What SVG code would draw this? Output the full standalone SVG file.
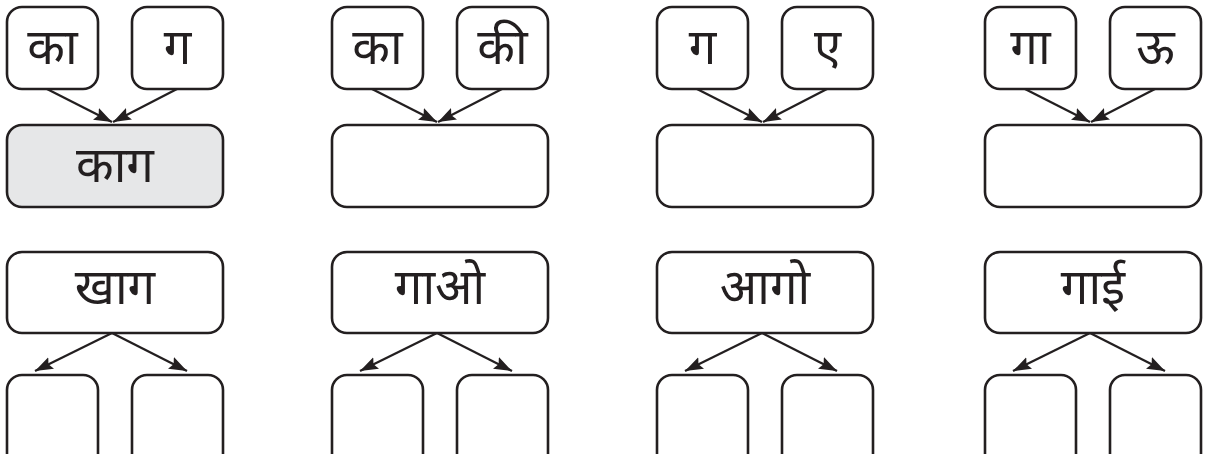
<svg xmlns="http://www.w3.org/2000/svg" width="1209" height="454" viewBox="0 0 1209 454">
<style>
.b{fill:#fff;stroke:#231f20;stroke-width:2.6}
.g{fill:#e6e7e8}
.c{stroke:#231f20;stroke-width:2.3;fill:none;marker-end:url(#ah)}
text{font-family:"Noto Sans","Noto Sans Devanagari",sans-serif;font-size:49px;fill:#231f20;text-anchor:middle}
</style>
<defs>
<marker id="ah" markerUnits="userSpaceOnUse" markerWidth="20" markerHeight="14" refX="18" refY="6.5" orient="auto">
<path d="M0,0 L18,6.5 L0,13 L3,6.5 z" fill="#231f20"/>
</marker>
</defs>
<rect width="1209" height="454" fill="#fff"/>
<!-- column 1 -->
<g id="n1a"><rect class="b" x="7" y="7" width="91" height="82" rx="15"/><text x="52.5" y="64">का</text></g>
<g id="n1b"><rect class="b" x="132" y="7" width="91" height="82" rx="15"/><text x="177.5" y="64">ग</text></g>
<g id="n1c"><rect class="b g" x="7" y="125" width="216" height="82" rx="15"/><text x="115" y="182">काग</text></g>
<g id="n1d"><rect class="b" x="7" y="252" width="216" height="81" rx="15"/><text x="115" y="304">खाग</text></g>
<g id="n1e"><rect class="b" x="7" y="375" width="91" height="100" rx="15"/></g>
<g id="n1f"><rect class="b" x="132" y="375" width="91" height="100" rx="15"/></g>
<!-- column 2 -->
<g id="n2a"><rect class="b" x="332" y="7" width="91" height="82" rx="15"/><text x="377.5" y="64">का</text></g>
<g id="n2b"><rect class="b" x="457" y="7" width="91" height="82" rx="15"/><text x="502.5" y="64">की</text></g>
<g id="n2c"><rect class="b" x="332" y="125" width="216" height="82" rx="15"/></g>
<g id="n2d"><rect class="b" x="332" y="252" width="216" height="81" rx="15"/><text x="440" y="304">गाओ</text></g>
<g id="n2e"><rect class="b" x="332" y="375" width="91" height="100" rx="15"/></g>
<g id="n2f"><rect class="b" x="457" y="375" width="91" height="100" rx="15"/></g>
<!-- column 3 -->
<g id="n3a"><rect class="b" x="657" y="7" width="91" height="82" rx="15"/><text x="702.5" y="64">ग</text></g>
<g id="n3b"><rect class="b" x="782" y="7" width="91" height="82" rx="15"/><text x="827.5" y="64">ए</text></g>
<g id="n3c"><rect class="b" x="657" y="125" width="216" height="82" rx="15"/></g>
<g id="n3d"><rect class="b" x="657" y="252" width="216" height="81" rx="15"/><text x="765" y="304">आगो</text></g>
<g id="n3e"><rect class="b" x="657" y="375" width="91" height="100" rx="15"/></g>
<g id="n3f"><rect class="b" x="782" y="375" width="91" height="100" rx="15"/></g>
<!-- column 4 -->
<g id="n4a"><rect class="b" x="985" y="7" width="91" height="82" rx="15"/><text x="1030.5" y="64">गा</text></g>
<g id="n4b"><rect class="b" x="1110" y="7" width="91" height="82" rx="15"/><text x="1155.5" y="64">ऊ</text></g>
<g id="n4c"><rect class="b" x="985" y="125" width="216" height="82" rx="15"/></g>
<g id="n4d"><rect class="b" x="985" y="252" width="216" height="81" rx="15"/><text x="1093" y="304">गाई</text></g>
<g id="n4e"><rect class="b" x="985" y="375" width="91" height="100" rx="15"/></g>
<g id="n4f"><rect class="b" x="1110" y="375" width="91" height="100" rx="15"/></g>
<g id="connectors">
<line class="c" x1="47" y1="89" x2="112" y2="122"/>
<line class="c" x1="177" y1="89" x2="113" y2="122"/>
<line class="c" x1="112" y1="333" x2="35" y2="371"/>
<line class="c" x1="112" y1="333" x2="187" y2="371"/>
<line class="c" x1="372" y1="89" x2="437" y2="122"/>
<line class="c" x1="502" y1="89" x2="438" y2="122"/>
<line class="c" x1="437" y1="333" x2="360" y2="371"/>
<line class="c" x1="437" y1="333" x2="512" y2="371"/>
<line class="c" x1="697" y1="89" x2="762" y2="122"/>
<line class="c" x1="827" y1="89" x2="763" y2="122"/>
<line class="c" x1="762" y1="333" x2="685" y2="371"/>
<line class="c" x1="762" y1="333" x2="837" y2="371"/>
<line class="c" x1="1025" y1="89" x2="1090" y2="122"/>
<line class="c" x1="1155" y1="89" x2="1091" y2="122"/>
<line class="c" x1="1090" y1="333" x2="1013" y2="371"/>
<line class="c" x1="1090" y1="333" x2="1165" y2="371"/>
</g>
</svg>
